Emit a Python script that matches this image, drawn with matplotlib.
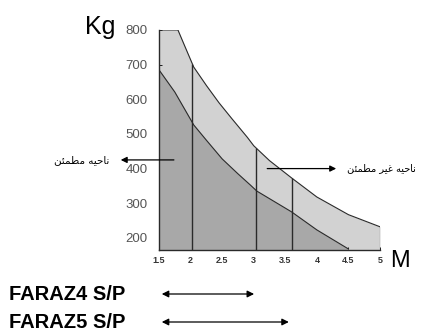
import matplotlib.pyplot as plt
import numpy as np

# ── Load chart: permissible load (Kg) vs. boom length (M) ──
# outer curve = upper limit (light band), inner curve = safe limit (dark band)
outer_x = [1.5, 1.8, 1.9, 2.05, 2.25, 2.45, 2.65, 2.9, 3.0, 3.25, 3.6, 4.0, 4.5, 5.0]
outer_y = [800, 800, 757, 693, 640, 590, 545, 490, 466, 423, 373, 318, 267, 232]
inner_x = [1.5, 1.75, 2.05, 2.25, 2.5, 2.75, 2.95, 3.05, 3.6, 4.0, 4.5]
inner_y = [685, 621, 526, 482, 428, 385, 352, 335, 275, 223, 168]

# vertical markers at model reach limits
mark_x = [2.03, 3.03, 3.6]

x_ticks = [1.5, 2, 2.5, 3, 3.5, 4, 4.5, 5]
x_tick_labels = ['1.5', '2', '2.5', '3', '3.5', '4', '4.5', '5']
y_ticks = [200, 300, 400, 500, 600, 700, 800]

models = ['FARAZ4 S/P', 'FARAZ5 S/P']
model_reach = [3.05, 3.6]

# Persian labels, pre-shaped (presentation forms, visual order)
safe_label = 'ﻦﺌﻤﻄﻣ ﻪﻴﺣﺎﻧ'        # ناحیه مطمئن
unsafe_label = 'ﻦﺌﻤﻄﻣ ﺮﻴﻏ ﻪﻴﺣﺎﻧ'  # ناحیه غیر مطمئن

c_light = '#d2d2d2'
c_dark = '#a8a8a8'
c_edge = '#2a2a2a'

fig = plt.figure(figsize=(4.26, 3.33), dpi=100)
ax = fig.add_axes([159 / 426, 1 - 250 / 333, 221 / 426, 220 / 333])

ymin = 165
ax.fill_between(outer_x, ymin, outer_y, color=c_light, lw=0, zorder=1)
ax.fill_between(inner_x, ymin, inner_y, color=c_dark, lw=0, zorder=2)
ax.plot(outer_x, outer_y, color=c_edge, lw=0.8, zorder=3)
ax.plot(inner_x, inner_y, color=c_edge, lw=0.8, zorder=3)
ax.plot([outer_x[-1], outer_x[-1]], [ymin, outer_y[-1]], color=c_edge, lw=0.8, zorder=3)

tops = np.interp(mark_x, outer_x, outer_y)
ax.vlines(mark_x, ymin, tops, color=c_edge, lw=1.0, zorder=3)

ax.set_xlim(1.5, 5.0)
ax.set_ylim(ymin, 800)
for s in ['top', 'right']:
    ax.spines[s].set_visible(False)
for s in ['left', 'bottom']:
    ax.spines[s].set_linewidth(1.0)
    ax.spines[s].set_color(c_edge)

ax.set_xticks(x_ticks)
ax.set_xticklabels(x_tick_labels, fontsize=6.5, fontweight='bold',
                   family='Liberation Sans', color='#333')
ax.set_yticks(y_ticks)
ax.set_yticklabels([str(v) for v in y_ticks], fontsize=9.5, color='#555',
                   family='Liberation Sans')
ax.tick_params(direction='in', length=2.5, width=0.6)
ax.tick_params(axis='y', pad=8)
ax.tick_params(axis='x', pad=4)

fig.text(100 / 426, 1 - 27 / 333, 'Kg', ha='center', va='center',
         fontsize=18, family='Liberation Sans')
fig.text(400 / 426, 1 - 261 / 333, 'M', ha='center', va='center',
         fontsize=17, family='Liberation Sans')

# safe / unsafe zone arrows
arrow = dict(arrowstyle='-|>', color='black', lw=0.9, mutation_scale=9)
ax.annotate('', xy=(0.85, 425), xytext=(1.78, 425), arrowprops=arrow,
            annotation_clip=False)
ax.annotate('', xy=(4.35, 400), xytext=(3.17, 400), arrowprops=arrow,
            annotation_clip=False)
fig.text(109 / 426, 1 - 160 / 333, safe_label, ha='right', va='center',
         fontsize=7.5, family='DejaVu Sans')
fig.text(347 / 426, 1 - 168 / 333, unsafe_label, ha='left', va='center',
         fontsize=7, family='DejaVu Sans')

# model reach arrows below the axis
dbl = dict(arrowstyle='<|-|>', color='black', lw=0.9, mutation_scale=10)
row_y = [1 - 294 / 333, 1 - 322 / 333]
for name, reach, yy in zip(models, model_reach, row_y):
    ax.annotate('', xy=(reach, yy), xytext=(1.5, yy),
                xycoords=('data', 'figure fraction'),
                textcoords=('data', 'figure fraction'),
                arrowprops=dbl, annotation_clip=False)
    fig.text(9 / 426, yy, name, ha='left', va='center', fontsize=14.5,
             fontweight='bold', family='Liberation Sans')

fig.savefig('out.png', dpi=100)
